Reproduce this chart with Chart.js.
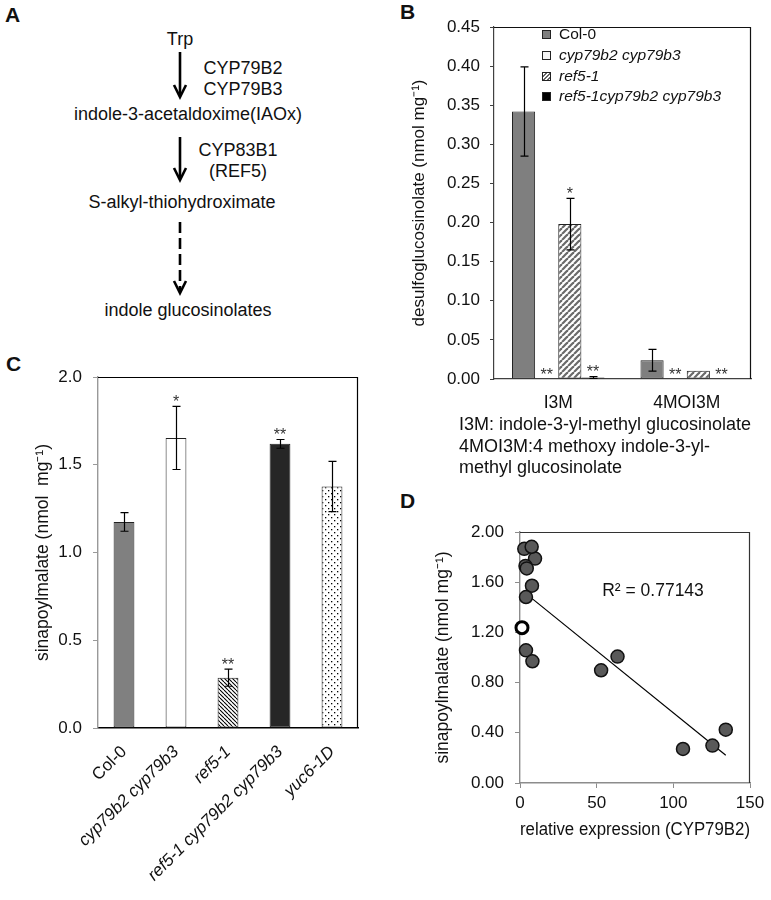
<!DOCTYPE html>
<html>
<head>
<meta charset="utf-8">
<script src="https://cdn.jsdelivr.net/npm/chart.js@4.4.1/dist/chart.umd.min.js"></script>
<style>
  body { margin: 0; background: #fff; font-family: "Liberation Sans", Arial, sans-serif; color: #111; }
  #fig { position: relative; width: 771px; height: 900px; overflow: hidden; }
  canvas { position: absolute; }
  .pl { position: absolute; font-weight: bold; font-size: 21px; line-height: 1; }
  .txt { position: absolute; white-space: nowrap; }
  .leg { position: absolute; left: 542px; font-size: 15.5px; white-space: nowrap; }
  .leg i.sw { position: absolute; left: 0; top: -4px; width: 7px; height: 7px; border: 1px solid #222; }
  .leg span { position: absolute; left: 17px; top: -9px; }
</style>
</head>
<body>
<div id="fig">
  <!-- panel A: pathway sketch -->
  <svg width="340" height="330" style="position:absolute;left:0;top:0" font-family="Liberation Sans, Arial, sans-serif" font-size="18" text-anchor="middle" fill="#111">
    <text x="180" y="39" dominant-baseline="central">Trp</text>
    <text x="243" y="68" dominant-baseline="central">CYP79B2</text>
    <text x="243" y="89" dominant-baseline="central">CYP79B3</text>
    <text x="188" y="114" dominant-baseline="central">indole-3-acetaldoxime(IAOx)</text>
    <text x="238" y="150" dominant-baseline="central">CYP83B1</text>
    <text x="238" y="171" dominant-baseline="central">(REF5)</text>
    <text x="182" y="202" dominant-baseline="central">S-alkyl-thiohydroximate</text>
    <text x="188" y="310" dominant-baseline="central">indole glucosinolates</text>
    <g stroke="#000" stroke-width="2.6" fill="none">
      <line x1="180" y1="52" x2="180" y2="96"/>
      <polyline points="174,85 180,97 186,85"/>
      <line x1="180" y1="137" x2="180" y2="179"/>
      <polyline points="174,168 180,180 186,168"/>
      <line x1="180" y1="222" x2="180" y2="292" stroke-dasharray="11 5"/>
      <polyline points="174,281 180,293 186,281"/>
    </g>
  </svg>
  <div class="pl" style="left:5px;top:4px">A</div>
  <div class="pl" style="left:400px;top:1px">B</div>
  <div class="pl" style="left:6px;top:353px">C</div>
  <div class="pl" style="left:400px;top:490px">D</div>

  <canvas id="chartB" width="371" height="420" style="left:400px;top:0px"></canvas>
  <canvas id="chartC" width="380" height="570" style="left:0px;top:330px"></canvas>
  <canvas id="chartD" width="371" height="420" style="left:400px;top:480px"></canvas>

  <!-- legend of panel B -->
  <div class="leg" style="top:34px"><i class="sw" style="background:#7f7f7f"></i><span>Col-0</span></div>
  <div class="leg" style="top:55px"><i class="sw" style="background:#f4f4f4"></i><span><em>cyp79b2 cyp79b3</em></span></div>
  <div class="leg" style="top:76px"><i class="sw" style="background:repeating-linear-gradient(135deg,#fff 0 1.5px,#666 1.5px 3px)"></i><span><em>ref5-1</em></span></div>
  <div class="leg" style="top:96px"><i class="sw" style="background:#000"></i><span><em>ref5-1cyp79b2 cyp79b3</em></span></div>

  <div class="txt" style="left:459px;top:414px;font-size:18px;line-height:21.5px">I3M: indole-3-yl-methyl glucosinolate<br>4MOI3M:4 methoxy indole-3-yl-<br>methyl glucosinolate</div>
  <div class="txt" style="left:653px;top:590px;font-size:17.5px;transform:translate(-50%,-50%)">R² = 0.77143</div>
</div>

<script>
// ---- panel B: desulfoglucosinolates ----
const glucCategories = ['I3M', '4MOI3M'];
const glucGenotypes = ['Col-0', 'cyp79b2 cyp79b3', 'ref5-1', 'ref5-1cyp79b2 cyp79b3'];
const glucCol0 = [0.342, 0.024];
const glucCyp = [0.0006, 0.0005];
const glucRef5 = [0.198, 0.0105];
const glucRef5Cyp = [0.002, 0.0005];
const glucCol0Err = [0.057, 0.014];
const glucCypErr = [0, 0];
const glucRef5Err = [0.033, 0];
const glucRef5CypErr = [0.0012, 0];
const glucCol0Sig = ['', ''];
const glucCypSig = ['**', '**'];
const glucRef5Sig = ['*', ''];
const glucRef5CypSig = ['**', '**'];

// ---- panel C: sinapoylmalate per genotype ----
const sinGenotypes = ['Col-0', 'cyp79b2 cyp79b3', 'ref5-1', 'ref5-1 cyp79b2 cyp79b3', 'yuc6-1D'];
const sinValues = [1.174, 1.653, 0.287, 1.619, 1.376];
const sinErrors = [0.053, 0.18, 0.049, 0.025, 0.143];
const sinSig = ['', '*', '**', '**', ''];

// ---- panel D: sinapoylmalate vs CYP79B2 expression ----
const exprX = [2.8, 9.8, 3.6, 4.4, 7.6, 7.8, 3.9, 3.9, 8.1, 52.9, 63.6, 106.3, 125.5, 134.2];
const sinY = [1.866, 1.788, 1.73, 1.71, 1.882, 1.572, 1.482, 1.057, 0.970, 0.898, 1.007, 0.271, 0.298, 0.425];
const openX = [1.3];
const openY = [1.238];
const trendX = [3.9, 134.2];
const trendY = [1.509, 0.221];

const FONT = '"Liberation Sans", Arial, sans-serif';
Chart.defaults.font.family = FONT;
Chart.defaults.color = '#111';

function makePattern(w, h, draw) {
    const c = document.createElement('canvas');
    c.width = w; c.height = h;
    const g = c.getContext('2d');
    g.fillStyle = '#fff';
    g.fillRect(0, 0, w, h);
    draw(g);
    return g.createPattern(c, 'repeat');
}

// gray "/" hatching (panel B), black "\" hatching and dots (panel C)
const grayHatch = makePattern(6, 6, g => {
    g.strokeStyle = '#6a6a6a'; g.lineWidth = 2.2;
    [-6, 0, 6].forEach(o => { g.beginPath(); g.moveTo(o, 6); g.lineTo(o + 6, 0); g.stroke(); });
});
const blackHatch = makePattern(4, 4, g => {
    g.strokeStyle = '#000'; g.lineWidth = 1.1;
    [-4, 0, 4].forEach(o => { g.beginPath(); g.moveTo(o, 0); g.lineTo(o + 4, 4); g.stroke(); });
});
const dotFill = makePattern(6, 6, g => {
    g.fillStyle = '#000';
    g.fillRect(1, 1, 1.3, 1.3);
    g.fillRect(4, 4, 1.3, 1.3);
});

// error bars + significance stars drawn on the bars
const errorBars = {
    id: 'errorBars',
    afterDatasetsDraw(chart) {
        const ctx = chart.ctx;
        const y = chart.scales.y;
        chart.data.datasets.forEach((ds, i) => {
            if (!ds.errors) return;
            chart.getDatasetMeta(i).data.forEach((bar, j) => {
                const v = ds.data[j], e = ds.errors[j];
                let top = y.getPixelForValue(v);
                ctx.save();
                ctx.strokeStyle = '#000';
                ctx.lineWidth = 1.2;
                if (e > 0) {
                    const hi = y.getPixelForValue(v + e), lo = y.getPixelForValue(v - e);
                    const x = Math.round(bar.x) + 0.5;
                    ctx.beginPath();
                    ctx.moveTo(x, hi); ctx.lineTo(x, lo);
                    ctx.moveTo(x - 4, hi); ctx.lineTo(x + 4, hi);
                    ctx.moveTo(x - 4, lo); ctx.lineTo(x + 4, lo);
                    ctx.stroke();
                    top = hi;
                }
                if (ds.sig && ds.sig[j]) {
                    ctx.fillStyle = '#333';
                    ctx.font = '16px ' + FONT;
                    ctx.textAlign = 'center';
                    ctx.textBaseline = 'alphabetic';
                    ctx.fillText(ds.sig[j], bar.x, top + 1);
                }
                ctx.restore();
            });
        });
    }
};

// top and right lines of the plot box
const frame = {
    id: 'frame',
    afterDraw(chart, args, opts) {
        const { left, right, top, bottom } = chart.chartArea;
        const ctx = chart.ctx;
        ctx.save();
        ctx.strokeStyle = opts.color || '#000';
        ctx.lineWidth = 1.2;
        ctx.beginPath();
        ctx.moveTo(left, top + 0.5); ctx.lineTo(right, top + 0.5);
        ctx.moveTo(right - 0.5, top); ctx.lineTo(right - 0.5, bottom);
        ctx.stroke();
        ctx.restore();
    }
};

function fixWidth(w) { return s => { s.width = w; }; }
function fixHeight(h) { return s => { s.height = h; }; }

// Panel B
new Chart(document.getElementById('chartB'), {
    type: 'bar',
    data: {
        labels: glucCategories,
        datasets: [
            { label: glucGenotypes[0], data: glucCol0, errors: glucCol0Err, sig: glucCol0Sig, backgroundColor: '#7f7f7f' },
            { label: glucGenotypes[1], data: glucCyp, errors: glucCypErr, sig: glucCypSig, backgroundColor: '#fff' },
            { label: glucGenotypes[2], data: glucRef5, errors: glucRef5Err, sig: glucRef5Sig, backgroundColor: grayHatch },
            { label: glucGenotypes[3], data: glucRef5Cyp, errors: glucRef5CypErr, sig: glucRef5CypSig, backgroundColor: '#000' }
        ].map(d => Object.assign(d, { borderColor: '#222', borderWidth: 1, borderSkipped: false, categoryPercentage: 0.72, barPercentage: 1 }))
    },
    options: {
        responsive: false,
        animation: false,
        layout: { padding: { top: 27, right: 20, left: 0, bottom: 0 } },
        plugins: { legend: { display: false }, tooltip: { enabled: false }, frame: { color: '#111' } },
        scales: {
            x: {
                afterFit: fixHeight(41),
                grid: { display: false },
                border: { display: true, color: '#404040', width: 1.2 },
                ticks: { padding: 6, font: { size: 17.5 }, color: '#111' }
            },
            y: {
                min: 0, max: 0.45,
                afterFit: fixWidth(94),
                grid: { display: true, drawOnChartArea: false, tickLength: 4, color: '#404040' },
                border: { display: true, color: '#404040', width: 1.2 },
                ticks: { stepSize: 0.05, padding: 10, font: { size: 17 }, color: '#111', callback: v => v.toFixed(2) },
                title: { display: true, text: 'desulfoglucosinolate (nmol mg⁻¹)', font: { size: 17 }, padding: { top: 9.5 }, color: '#111' }
            }
        }
    },
    plugins: [errorBars, frame]
});

// Panel C
new Chart(document.getElementById('chartC'), {
    type: 'bar',
    data: {
        labels: sinGenotypes,
        datasets: [{
            label: 'sinapoylmalate',
            data: sinValues,
            errors: sinErrors,
            sig: sinSig,
            backgroundColor: ['#808080', '#fff', blackHatch, '#262626', dotFill],
            borderColor: '#222',
            borderWidth: 1,
            borderSkipped: false,
            categoryPercentage: 0.8,
            barPercentage: 0.5
        }]
    },
    options: {
        responsive: false,
        animation: false,
        layout: { padding: { top: 47, right: 22, left: 0, bottom: 0 } },
        plugins: { legend: { display: false }, tooltip: { enabled: false }, frame: { color: '#000' } },
        scales: {
            x: {
                afterFit: fixHeight(172),
                grid: { display: false },
                border: { display: true, color: '#000', width: 1.4 },
                ticks: {
                    autoSkip: false, minRotation: 45, maxRotation: 45, padding: 6, color: '#111',
                    font: c => ({ family: FONT, size: 17, style: c.index === 0 ? 'normal' : 'italic' })
                }
            },
            y: {
                min: 0, max: 2,
                afterFit: fixWidth(98),
                grid: { display: true, drawOnChartArea: false, tickLength: 5, color: '#999' },
                border: { display: true, color: '#999', width: 1.4 },
                ticks: { stepSize: 0.5, padding: 11, font: { size: 17 }, color: '#111', callback: v => v.toFixed(1) },
                title: { display: true, text: 'sinapoylmalate (nmol  mg⁻¹)', font: { size: 17.5 }, padding: { top: 32.5 }, color: '#111' }
            }
        }
    },
    plugins: [errorBars, frame]
});

// Panel D
new Chart(document.getElementById('chartD'), {
    type: 'scatter',
    data: {
        datasets: [
            {
                label: 'lines',
                data: exprX.map((x, i) => ({ x: x, y: sinY[i] })),
                pointRadius: 6.5, pointBackgroundColor: '#595959', pointBorderColor: '#111', pointBorderWidth: 1.5,
                clip: false
            },
            {
                label: 'open',
                data: openX.map((x, i) => ({ x: x, y: openY[i] })),
                pointRadius: 6, pointBackgroundColor: '#fff', pointBorderColor: '#000', pointBorderWidth: 3,
                clip: false
            },
            {
                label: 'trend',
                type: 'line',
                data: trendX.map((x, i) => ({ x: x, y: trendY[i] })),
                borderColor: '#000', borderWidth: 1.2, pointRadius: 0, fill: false
            }
        ]
    },
    options: {
        responsive: false,
        animation: false,
        layout: { padding: { top: 52, right: 21, left: 0, bottom: 0 } },
        plugins: { legend: { display: false }, tooltip: { enabled: false }, frame: { color: '#333' } },
        scales: {
            x: {
                type: 'linear', min: 0, max: 150,
                afterFit: fixHeight(117),
                grid: { display: true, drawOnChartArea: false, tickLength: 5, color: '#8c8c8c' },
                border: { display: true, color: '#8c8c8c', width: 1.4 },
                ticks: { stepSize: 50, padding: 5, font: { size: 17 }, color: '#111' },
                title: { display: true, text: 'relative expression (CYP79B2)', font: { size: 17.5 }, padding: { bottom: 59.5 }, color: '#111' }
            },
            y: {
                min: 0, max: 2,
                afterFit: fixWidth(120),
                grid: { display: true, drawOnChartArea: false, tickLength: 5, color: '#8c8c8c' },
                border: { display: true, color: '#8c8c8c', width: 1.4 },
                ticks: { stepSize: 0.4, padding: 11, font: { size: 17 }, color: '#111', callback: v => v.toFixed(2) },
                title: { display: true, text: 'sinapoylmalate (nmol mg⁻¹)', font: { size: 17.5 }, padding: { top: 32.5 }, color: '#111' }
            }
        }
    },
    plugins: [frame]
});
</script>
</body>
</html>
